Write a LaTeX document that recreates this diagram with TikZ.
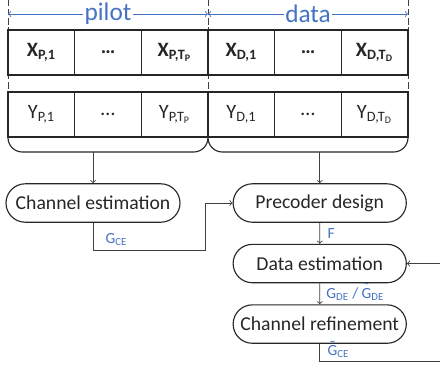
\documentclass[tikz,border=0pt]{standalone}
\usepackage{fontspec}
\setmainfont{Carlito}
\usetikzlibrary{positioning,calc,shapes.misc}
\definecolor{cBlue}{HTML}{4472C4}
\definecolor{cInk}{HTML}{262626}
\definecolor{cLine}{HTML}{404040}
% G with a tilde on top
\newcommand{\tildeG}{{\ooalign{G\cr\hidewidth\raisebox{0.26em}{\char"02DC}\hidewidth\cr}}}
\tikzset{
  cell/.style={rectangle,draw=cInk,line width=0.9pt,minimum width=1.6667cm,minimum height=1.125cm,inner sep=0pt,outer sep=0pt,font=\fontsize{14.5}{16}\selectfont,text=cInk},
  bcell/.style={cell,font=\fontsize{14.5}{16}\selectfont\bfseries},
  proc/.style={rounded rectangle,draw=cInk,line width=0.8pt,minimum width=4.33cm,minimum height=0.96cm,inner sep=0pt,font=\fontsize{14}{16}\selectfont,text=cInk},
  flow/.style={->,draw=cLine,line width=0.6pt},
  span/.style={draw=cBlue,line width=0.6pt},
  spanlbl/.style={text=cBlue,font=\fontsize{18}{20}\selectfont,inner sep=1pt},
  lbl/.style={text=cBlue,font=\fontsize{11}{12}\selectfont,inner sep=1pt},
  sep/.style={draw=cLine,dash pattern=on 4.5pt off 2pt,line width=0.6pt},
}

\begin{document}
\begin{tikzpicture}
  \useasboundingbox (0,0) rectangle (11,-9.2);
  % block borders
  \foreach \x/\n in {0.2/sa,5.2/sb,10.2/sc} {
    \draw[sep] (\x,0) -- (\x,-3.42);
    \coordinate (\n) at (\x,-0.35);
  }
  \node[spanlbl] (pilot) at (2.7,-0.35) {pilot};
  \node[spanlbl] (data) at (7.7,-0.35) {data};
  \draw[span,<-] (sa) -- (pilot.west);
  \draw[span,->] (pilot.east) -- (sb);
  \draw[span,<-] (sb) -- (data.west);
  \draw[span,->] (data.east) -- (sc);

  % transmitted symbols
  \node[bcell] (xp1) at (1.0333,-1.3125) {X\textsubscript{P,1}};
  \node[bcell,right=0pt of xp1] (xp2) {\dots};
  \node[bcell,right=0pt of xp2] (xp3) {X\textsubscript{P,T\textsubscript{P}}};
  \node[bcell,right=0pt of xp3] (xd1) {X\textsubscript{D,1}};
  \node[bcell,right=0pt of xd1] (xd2) {\dots};
  \node[bcell,right=0pt of xd2] (xd3) {X\textsubscript{D,T\textsubscript{D}}};
  % received symbols
  \node[cell,below=0.425cm of xp1] (yp1) {Y\textsubscript{P,1}};
  \node[cell,right=0pt of yp1] (yp2) {\dots};
  \node[cell,right=0pt of yp2] (yp3) {Y\textsubscript{P,T\textsubscript{P}}};
  \node[cell,right=0pt of yp3] (yd1) {Y\textsubscript{D,1}};
  \node[cell,right=0pt of yd1] (yd2) {\dots};
  \node[cell,right=0pt of yd2] (yd3) {Y\textsubscript{D,T\textsubscript{D}}};

  % brackets under the two blocks
  \draw[draw=cInk,line width=0.8pt,rounded corners=0.36cm]
    (yp1.south west) -- ++(0,-0.375) -- ($(yp3.south east)+(0,-0.375)$) -- (yp3.south east);
  \draw[draw=cInk,line width=0.8pt,rounded corners=0.36cm]
    (yd1.south west) -- ++(0,-0.375) -- ($(yd3.south east)+(0,-0.375)$) -- (yd3.south east);
  \path (yp1.south) ++(0,-0.375) coordinate (braceY);

  % processing steps
  \node[proc,minimum width=4.35cm] (ce) at (2.325,-5.075) {Channel estimation};
  \node[proc,right=1.3cm of ce] (pd) {Precoder design};
  \node[proc,below=0.525cm of pd] (de) {Data estimation};
  \node[proc,below=0.525cm of de] (cr) {Channel refinement};

  \coordinate (pstem) at (ce.north |- braceY);
  \coordinate (dstem) at (pd.north |- braceY);
  \draw[flow] (pstem) -- (ce.north);
  \draw[flow] (dstem) -- (pd.north);

  \coordinate (gbend) at (5.125,-6.25);
  \draw[flow] (ce.south) |- (gbend) |- (pd.west);
  \node[lbl,anchor=west] (gce) at (2.6,-5.98) {G\textsubscript{CE}};

  \draw[flow] (pd) -- node[lbl,anchor=west,xshift=0.15cm] (f) {F} (de);
  \draw[flow] (de) -- node[lbl,anchor=west,xshift=0.12cm] (gde) {G\textsubscript{DE} / \tildeG\textsubscript{DE}} (cr);

  \coordinate (fb) at (11.05,-9.025);
  \draw[flow] (cr.south) |- (fb) |- (de.east);
  \node[lbl,anchor=west] (gcr) at (8.15,-8.78) {\tildeG\textsubscript{CE}};
\end{tikzpicture}
\end{document}
